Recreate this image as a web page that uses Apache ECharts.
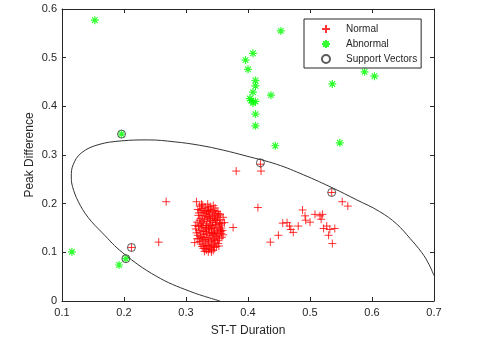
<!DOCTYPE html>
<html>
<head>
<meta charset="utf-8">
<script src="https://cdn.jsdelivr.net/npm/echarts@6/dist/echarts.min.js"></script>
<style>
  html, body { margin: 0; padding: 0; background: #fff; }
  #main { width: 480px; height: 339px; }
</style>
</head>
<body>
<div id="main"></div>
<script>
// axis ticks
var xTicks = [0.1, 0.2, 0.3, 0.4, 0.5, 0.6, 0.7];
var yTicks = [0, 0.1, 0.2, 0.3, 0.4, 0.5, 0.6];

// Normal (red +), [ST-T Duration, Peak Difference]
var normalPts = [
  // dense cluster
  [0.317,0.204],[0.322,0.195],[0.326,0.190],[0.331,0.193],[0.336,0.191],[0.340,0.188],[0.345,0.186],
  [0.350,0.184],[0.328,0.182],[0.333,0.180],[0.338,0.178],[0.343,0.176],[0.348,0.179],[0.353,0.175],
  [0.320,0.176],[0.324,0.170],[0.330,0.168],[0.335,0.171],[0.340,0.166],[0.345,0.169],[0.350,0.165],
  [0.355,0.167],[0.358,0.160],[0.318,0.162],[0.323,0.158],[0.328,0.160],[0.333,0.155],[0.338,0.158],
  [0.343,0.154],[0.348,0.157],[0.353,0.152],[0.357,0.150],[0.362,0.161],[0.316,0.148],[0.321,0.145],
  [0.326,0.150],[0.331,0.143],[0.336,0.146],[0.341,0.141],[0.346,0.144],[0.351,0.140],[0.356,0.143],
  [0.319,0.135],[0.324,0.132],[0.329,0.137],[0.334,0.130],[0.339,0.134],[0.344,0.129],[0.349,0.132],
  [0.354,0.128],[0.314,0.120],[0.322,0.122],[0.327,0.125],[0.332,0.119],[0.337,0.122],[0.342,0.117],
  [0.347,0.121],[0.352,0.118],[0.326,0.112],[0.331,0.108],[0.336,0.111],[0.341,0.106],[0.346,0.110],
  [0.330,0.102],[0.341,0.101],[0.335,0.199],[0.344,0.196],[0.360,0.172],[0.315,0.155],[0.360,0.136],
  [0.327,0.197],[0.339,0.194],[0.347,0.191],[0.324,0.186],[0.330,0.185],[0.336,0.184],[0.342,0.182],
  [0.352,0.180],[0.326,0.176],[0.332,0.174],[0.337,0.173],[0.346,0.173],[0.351,0.171],[0.322,0.166],
  [0.327,0.164],[0.334,0.163],[0.343,0.162],[0.348,0.161],[0.354,0.159],[0.320,0.153],[0.325,0.155],
  [0.331,0.151],[0.336,0.152],[0.341,0.149],[0.345,0.150],[0.350,0.148],[0.355,0.146],[0.323,0.140],
  [0.328,0.143],[0.333,0.138],[0.338,0.140],[0.343,0.136],[0.348,0.138],[0.353,0.134],[0.358,0.131],
  [0.321,0.128],[0.326,0.130],[0.331,0.126],[0.336,0.127],[0.341,0.124],[0.346,0.126],[0.351,0.124],
  [0.324,0.117],[0.329,0.115],[0.334,0.114],[0.339,0.113],[0.344,0.115],[0.349,0.112],[0.333,0.105],
  [0.338,0.107],[0.344,0.104],[0.328,0.108],[0.319,0.188],[0.356,0.156],[0.318,0.128],[0.347,0.166],
  [0.321,0.181],[0.355,0.178],[0.359,0.145],[0.317,0.140],[0.353,0.113],[0.336,0.101],[0.325,0.199],
  [0.339,0.169],[0.333,0.148],[0.329,0.130],[0.345,0.139],[0.340,0.155],[0.334,0.186],[0.357,0.139],
  // scattered
  [0.268,0.204],[0.256,0.121],[0.212,0.110],[0.381,0.267],[0.376,0.151],[0.420,0.281],[0.421,0.267],
  [0.416,0.192],[0.535,0.223],[0.552,0.204],[0.561,0.195],[0.488,0.187],[0.492,0.175],[0.493,0.166],
  [0.500,0.162],[0.508,0.178],[0.516,0.175],[0.520,0.178],[0.518,0.168],[0.522,0.149],[0.527,0.154],
  [0.532,0.147],[0.540,0.149],[0.530,0.135],[0.536,0.118],[0.456,0.160],[0.467,0.154],[0.469,0.147],
  [0.473,0.141],[0.481,0.154],[0.449,0.135],[0.436,0.121],[0.463,0.161]
];

// Abnormal (green *)
var abnormalPts = [
  [0.153,0.577],[0.453,0.555],[0.408,0.509],[0.396,0.495],[0.400,0.476],[0.412,0.453],[0.412,0.442],
  [0.408,0.429],[0.403,0.416],[0.405,0.412],[0.408,0.407],[0.412,0.410],[0.412,0.384],[0.412,0.360],
  [0.437,0.423],[0.444,0.319],[0.536,0.446],[0.588,0.471],[0.604,0.462],[0.548,0.325],[0.116,0.101],
  [0.192,0.074],[0.196,0.343],[0.203,0.087]
];

// Support vectors (open circles)
var supportPts = [
  [0.196,0.343],[0.203,0.087],[0.212,0.110],[0.420,0.284],[0.535,0.223]
];

// decision boundary
var boundaryPts = [
  [0.355,0.000],[0.306,0.020],[0.252,0.051],[0.198,0.099],[0.165,0.140],[0.142,0.172],[0.126,0.205],
  [0.117,0.235],[0.115,0.255],[0.118,0.280],[0.131,0.304],[0.158,0.321],[0.196,0.329],[0.239,0.331],
  [0.282,0.327],[0.322,0.320],[0.360,0.310],[0.397,0.298],[0.446,0.281],[0.490,0.259],[0.537,0.232],
  [0.575,0.208],[0.612,0.184],[0.640,0.158],[0.661,0.129],[0.680,0.100],[0.692,0.075],[0.700,0.052]
];

var plusPath = 'path://M5,0L5,10M0,5L10,5';
var starPath = 'path://M5,0L5,10M0,5L10,5M1.5,1.5L8.5,8.5M8.5,1.5L1.5,8.5';
var axisColor = '#262626';
var font = 'Arial, "Liberation Sans", Helvetica, sans-serif';

function fmt(v) { return String(Math.round(v * 10) / 10); }

var chart = echarts.init(document.getElementById('main'), null, { renderer: 'canvas' });

var baseX = {
  type: 'value', min: xTicks[0], max: xTicks[xTicks.length - 1], interval: 0.1,
  axisLine: { show: true, onZero: false, lineStyle: { color: axisColor, width: 1 } },
  axisTick: { show: true, inside: true, length: 4, lineStyle: { color: axisColor } },
  splitLine: { show: false }
};
var baseY = {
  type: 'value', min: yTicks[0], max: yTicks[yTicks.length - 1], interval: 0.1,
  axisLine: { show: true, onZero: false, lineStyle: { color: axisColor, width: 1 } },
  axisTick: { show: true, inside: true, length: 4, lineStyle: { color: axisColor } },
  splitLine: { show: false }
};

var option = {
  animation: false,
  backgroundColor: '#fff',
  grid: { left: 62, right: 46, top: 9, bottom: 38, containLabel: false, outerBoundsMode: 'none' },
  xAxis: [
    Object.assign({}, baseX, {
      position: 'bottom',
      name: 'ST-T Duration', nameLocation: 'middle', nameGap: 24, nameMoveOverlap: false,
      nameTextStyle: { color: axisColor, fontSize: 12, fontFamily: font },
      axisLabel: { color: axisColor, fontSize: 11, fontFamily: font, margin: 6, formatter: fmt }
    }),
    Object.assign({}, baseX, { position: 'top', axisLabel: { show: false } })
  ],
  yAxis: [
    Object.assign({}, baseY, {
      position: 'left',
      name: 'Peak Difference', nameLocation: 'middle', nameGap: 26, nameMoveOverlap: false,
      nameTextStyle: { color: axisColor, fontSize: 12, fontFamily: font },
      axisLabel: { color: axisColor, fontSize: 11, fontFamily: font, margin: 5, formatter: fmt }
    }),
    Object.assign({}, baseY, { position: 'right', axisLabel: { show: false } })
  ],
  legend: {
    data: ['Normal', 'Abnormal', 'Support Vectors'],
    orient: 'vertical',
    left: 304, top: 19,
    padding: [5, 4, 4, 17],
    itemGap: 5,
    itemWidth: 8, itemHeight: 8,
    borderColor: axisColor, borderWidth: 1,
    backgroundColor: '#fff',
    textStyle: { color: axisColor, fontSize: 10, fontFamily: font, padding: [0, 0, 0, 11] }
  },
  series: [
    {
      name: 'boundary', type: 'line', data: boundaryPts, smooth: 0.4,
      showSymbol: false, silent: true, z: 1,
      lineStyle: { color: '#333', width: 1 }
    },
    {
      name: 'Normal', type: 'scatter', data: normalPts,
      symbol: plusPath, symbolSize: 8, z: 2,
      itemStyle: { color: '#ff0000', borderColor: '#ff0000', borderWidth: 1 }
    },
    {
      name: 'Abnormal', type: 'scatter', data: abnormalPts,
      symbol: starPath, symbolSize: 8, z: 3,
      itemStyle: { color: '#00ff00', borderColor: '#00ff00', borderWidth: 1.2 }
    },
    {
      name: 'Support Vectors', type: 'scatter', data: supportPts,
      symbol: 'circle', symbolSize: 8, z: 4,
      itemStyle: { color: 'rgba(0,0,0,0)', borderColor: '#333', borderWidth: 1 }
    }
  ]
};

chart.setOption(option);
</script>
</body>
</html>
